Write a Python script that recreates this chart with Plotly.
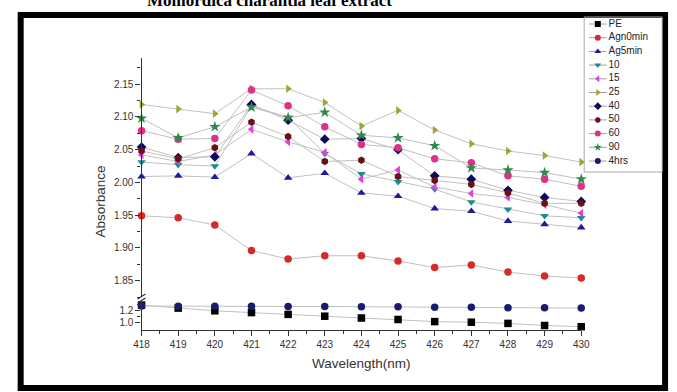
import plotly.graph_objects as go

W, H = 677, 392

wavelength = [418, 419, 420, 421, 422, 423, 424, 425, 426, 427, 428, 429, 430]

series_names = ["PE", "Agn0min", "Ag5min", "10", "15", "25", "40", "50", "60", "90", "4hrs"]

pe      = [1.285, 1.235, 1.19, 1.16, 1.13, 1.10, 1.07, 1.045, 1.01, 1.0, 0.98, 0.945, 0.925]
agn0min = [1.949, 1.946, 1.935, 1.896, 1.883, 1.888, 1.888, 1.880, 1.870, 1.874, 1.863, 1.857, 1.854]
ag5min  = [2.009, 2.010, 2.008, 2.044, 2.007, 2.014, 1.984, 1.979, 1.960, 1.956, 1.941, 1.936, 1.931]
s10     = [2.031, 2.027, 2.025, 2.117, 2.099, 2.044, 2.013, 2.001, 1.990, 1.970, 1.959, 1.949, 1.946]
s15     = [2.042, 2.032, 2.042, 2.081, 2.062, 2.046, 2.005, 2.019, 1.993, 1.983, 1.977, 1.966, 1.953]
s25     = [2.119, 2.112, 2.105, 2.143, 2.143, 2.122, 2.086, 2.110, 2.080, 2.059, 2.048, 2.041, 2.031]
s40     = [2.054, 2.038, 2.039, 2.119, 2.095, 2.066, 2.067, 2.050, 2.010, 2.005, 1.988, 1.977, 1.971]
s50     = [2.048, 2.036, 2.053, 2.092, 2.070, 2.032, 2.034, 2.009, 2.003, 1.997, 1.984, 1.968, 1.968]
s60     = [2.079, 2.066, 2.067, 2.141, 2.117, 2.085, 2.058, 2.053, 2.036, 2.030, 2.010, 2.005, 1.994]
s90     = [2.098, 2.068, 2.085, 2.115, 2.099, 2.107, 2.072, 2.068, 2.056, 2.022, 2.019, 2.015, 2.005]
h4      = [1.27, 1.265, 1.265, 1.265, 1.262, 1.262, 1.258, 1.258, 1.25, 1.248, 1.242, 1.24, 1.235]

values = [pe, agn0min, ag5min, s10, s15, s25, s40, s50, s60, s90, h4]
lower_axis = ["PE", "4hrs"]

upper_ticks = [1.85, 1.90, 1.95, 2.00, 2.05, 2.10, 2.15]
lower_ticks = [1.0, 1.2]

colors = ["#000000", "#d42a2a", "#1c1c9c", "#1a8c8c", "#e040e0", "#a3a333",
          "#0a0a5c", "#6a1018", "#e0308a", "#2e8a4a", "#1a1a70"]
symbols = ["square", "circle", "triangle-up", "triangle-down", "triangle-left",
           "triangle-right", "diamond", "hexagon", "circle", "star", "circle"]

FONT = "Liberation Sans, Arial, sans-serif"

def px_x(x):
    return x / W

def px_y(y):
    return 1 - y / H

fig = go.Figure()

for name, vals, col, sym in zip(series_names, values, colors, symbols):
    yax = "y" if name in lower_axis else "y2"
    fig.add_trace(go.Scatter(
        x=wavelength, y=vals, name=name, mode="lines+markers",
        line=dict(color="#c0c0c0", width=1),
        marker=dict(color=col, symbol=sym, size=7.5 if sym != "star" else 8.5,
                    line=dict(width=0)),
        xaxis="x", yaxis=yax, cliponaxis=False, showlegend=False))

# custom legend drawn in its own small axis
leg_y = [7 + 13.7 * i for i in range(len(series_names))]
for name, col, sym, ly in zip(series_names, colors, symbols, leg_y):
    fig.add_trace(go.Scatter(
        x=[5, 23], y=[ly, ly], mode="lines", line=dict(color="#a0a0a0", width=1),
        xaxis="x3", yaxis="y3", showlegend=False, hoverinfo="skip"))
    fig.add_trace(go.Scatter(
        x=[14], y=[ly], mode="markers",
        marker=dict(color=col, symbol=sym, size=6, line=dict(width=0)),
        xaxis="x3", yaxis="y3", showlegend=False, hoverinfo="skip"))
    fig.add_trace(go.Scatter(
        x=[25], y=[ly], mode="text", text=[name], textposition="middle right",
        textfont=dict(family=FONT, size=10, color="#222222"),
        xaxis="x3", yaxis="y3", showlegend=False, hoverinfo="skip"))

axis_common = dict(showgrid=False, zeroline=False, showline=True,
                   linecolor="#333333", linewidth=1.3, ticks="outside",
                   ticklen=5, tickwidth=1, tickcolor="#333333",
                   tickfont=dict(family=FONT, size=10, color="#333333"))

fig.update_layout(
    width=W, height=H,
    margin=dict(l=0, r=0, t=0, b=0),
    paper_bgcolor="white", plot_bgcolor="white",
    xaxis=dict(domain=[px_x(137), px_x(588)], range=[418, 430],
               tickvals=wavelength, anchor="y",
               minor=dict(dtick=0.5, tick0=418, ticks="outside", ticklen=3,
                          tickcolor="#333333"),
               **axis_common),
    yaxis=dict(domain=[px_y(330), px_y(300)], range=[0.87, 1.37],
               tickvals=lower_ticks, ticktext=["%.1f" % v for v in lower_ticks],
               anchor="x",
               minor=dict(tickvals=[1.1, 1.3], ticks="outside", ticklen=3,
                          tickcolor="#333333"),
               **axis_common),
    yaxis2=dict(domain=[px_y(297), px_y(58)], range=[1.825, 2.19],
                tickvals=upper_ticks, ticktext=["%.2f" % v for v in upper_ticks],
                anchor="x",
                minor=dict(dtick=0.025, tick0=1.825, ticks="outside", ticklen=3,
                           tickcolor="#333333"),
                **axis_common),
    xaxis3=dict(domain=[px_x(591), px_x(671)], range=[0, 80], visible=False,
                anchor="y3", fixedrange=True),
    yaxis3=dict(domain=[px_y(172), px_y(17)], range=[155, 0], visible=False,
                anchor="x3", fixedrange=True),
    shapes=[
        # outer black frame
        dict(type="rect", xref="paper", yref="paper",
             x0=px_x(13), x1=px_x(674), y0=px_y(388), y1=px_y(15),
             line=dict(color="black", width=6), fillcolor="rgba(0,0,0,0)"),
        # legend box
        dict(type="rect", xref="paper", yref="paper",
             x0=px_x(591), x1=px_x(671), y0=px_y(172), y1=px_y(17),
             line=dict(color="#a8a8a8", width=1), fillcolor="rgba(0,0,0,0)"),
        # axis break marks
        dict(type="line", xref="paper", yref="paper",
             x0=px_x(133), x1=px_x(141), y0=px_y(299), y1=px_y(294),
             line=dict(color="#333333", width=1.3)),
        dict(type="line", xref="paper", yref="paper",
             x0=px_x(133), x1=px_x(141), y0=px_y(303), y1=px_y(298),
             line=dict(color="#333333", width=1.3)),
    ],
    annotations=[
        dict(text="<b>Momordica charantia leaf extract</b>", xref="paper", yref="paper",
             x=px_x(268), y=px_y(0), xanchor="center", yanchor="middle",
             showarrow=False, font=dict(family="Liberation Serif, Times New Roman, serif",
                                        size=17, color="black")),
        dict(text="Absorbance", xref="paper", yref="paper",
             x=px_x(95), y=px_y(202), xanchor="center", yanchor="middle",
             textangle=-90, showarrow=False,
             font=dict(family=FONT, size=13.5, color="#333333")),
        dict(text="Wavelength(nm)", xref="paper", yref="paper",
             x=px_x(363), y=px_y(363), xanchor="center", yanchor="middle",
             showarrow=False, font=dict(family=FONT, size=13.5, color="#333333")),
    ],
)

fig.write_html(
    "out.html",
    config={"displayModeBar": False},
    post_script="document.body.style.margin='0';document.body.style.overflow='hidden';",
)
